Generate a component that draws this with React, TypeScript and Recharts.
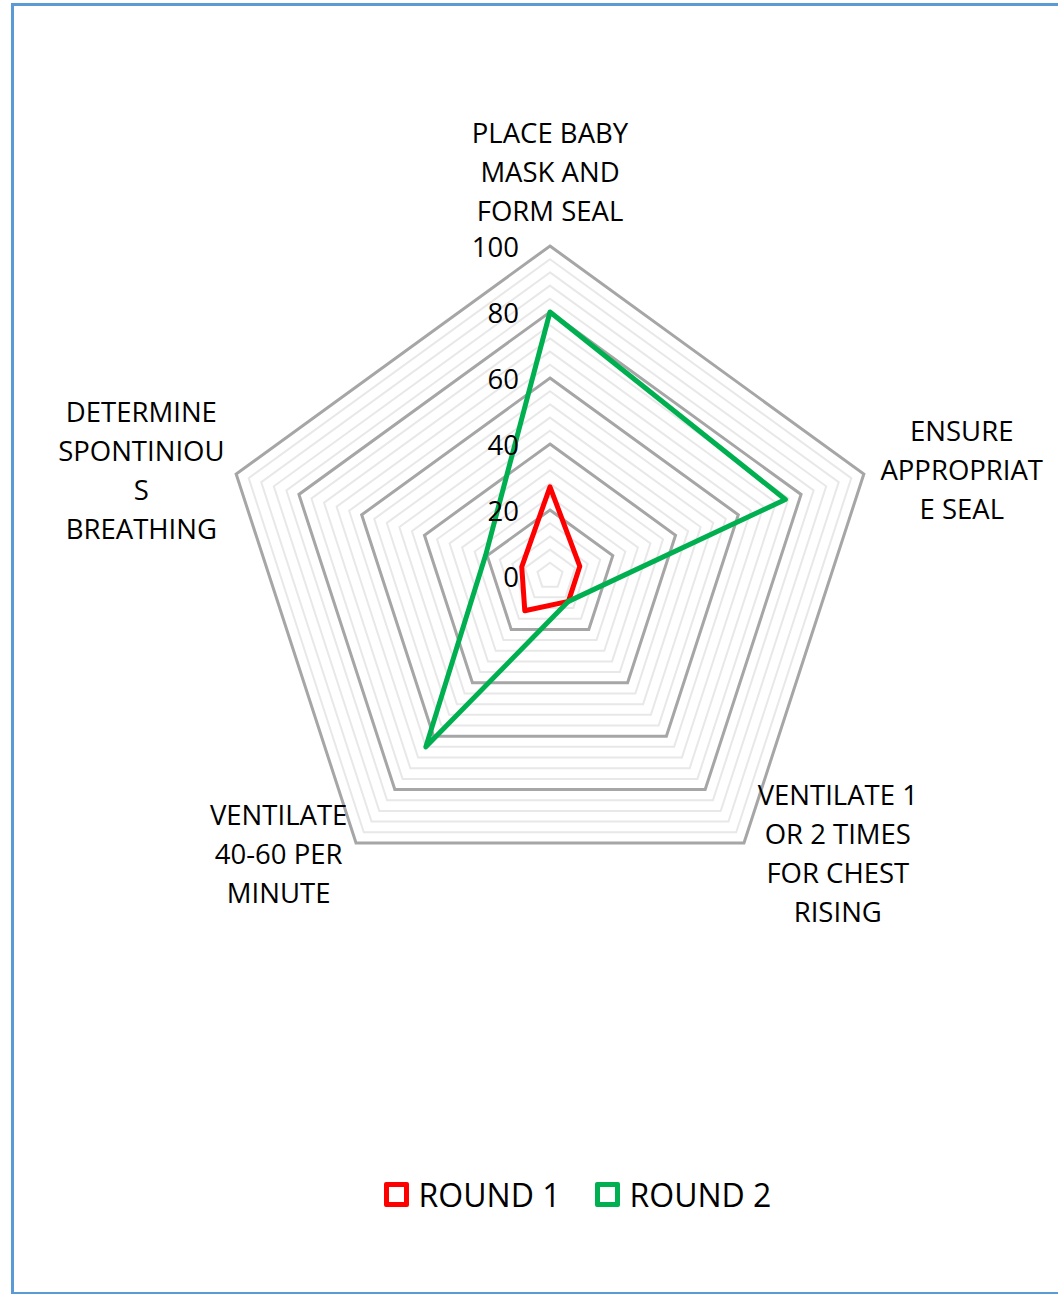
import { RadarChart, Radar, PolarGrid, PolarAngleAxis, PolarRadiusAxis, Legend } from 'recharts';

const categories = [
  'PLACE BABY\nMASK AND\nFORM SEAL',
  'ENSURE\nAPPROPRIAT\nE SEAL',
  'VENTILATE 1\nOR 2 TIMES\nFOR CHEST\nRISING',
  'VENTILATE\n40-60 PER\nMINUTE',
  'DETERMINE\nSPONTINIOU\nS\nBREATHING',
];
const round1 = [27, 9.5, 9.5, 13, 9];
const round2 = [80, 75, 9.5, 64, 20.5];
const majorTicks = [0, 20, 40, 60, 80, 100];
const minorTicks = [4, 8, 12, 16, 24, 28, 32, 36, 44, 48, 52, 56, 64, 68, 72, 76, 84, 88, 92, 96];

const data = categories.map((c, i) => ({ name: c, r1: round1[i], r2: round2[i] }));

const FONT = "'Open Sans', 'Noto Sans', sans-serif";
const LABEL_SIZE = 27.5;
const LINE_H = 39;
const OUTER = 330;
const MAX = 100;

let ctx: CanvasRenderingContext2D | null = null;
function textWidth(s: string) {
  if (!ctx) ctx = document.createElement('canvas').getContext('2d');
  if (!ctx) return s.length * 16;
  ctx.font = `${LABEL_SIZE}px ${FONT}`;
  return ctx.measureText(s).width;
}

function AngleTick(props: any) {
  const { x, y, cy, textAnchor, payload } = props;
  const lines: string[] = String(payload.value).split('\n');
  const w = Math.max(...lines.map(textWidth));
  const n = lines.length;
  let cxText = x;
  let firstY: number;
  if (textAnchor === 'middle') {
    firstY = y - 28 - (n - 1) * LINE_H;
  } else {
    cxText = textAnchor === 'start' ? x + 9 + w / 2 : x - 4 - w / 2;
    const shift = y > cy ? 4 : -2;
    firstY = y + shift - ((n - 1) * LINE_H) / 2;
  }
  return (
    <g>
      {lines.map((l, i) => (
        <text
          key={i}
          x={cxText}
          y={firstY + i * LINE_H}
          textAnchor="middle"
          dominantBaseline="central"
          fill="#000"
          fontSize={LABEL_SIZE}
          fontFamily={FONT}
        >
          {l}
        </text>
      ))}
    </g>
  );
}

function RadiusTick(props: any) {
  const { x, y, payload } = props;
  return (
    <text x={x - 31} y={y} textAnchor="end" dominantBaseline="central" fill="#000" fontSize={LABEL_SIZE} fontFamily={FONT}>
      {payload.value}
    </text>
  );
}

function LegendContent(props: any) {
  const items = (props.payload || []) as { value: string; color: string }[];
  return (
    <div style={{ display: 'flex', justifyContent: 'center', alignItems: 'center', fontFamily: FONT, fontSize: 32, color: '#000', paddingLeft: 97 }}>
      {items.map((it, i) => (
        <div key={i} style={{ display: 'flex', alignItems: 'center', marginLeft: i === 0 ? 0 : 34 }}>
          <span style={{ width: 15, height: 15, border: `5px solid ${it.color}`, borderRadius: 2, display: 'inline-block', marginRight: 10 }} />
          <span>{it.value}</span>
        </div>
      ))}
    </div>
  );
}

export default function App() {
  return (
    <div style={{ position: 'absolute', left: 0, top: 0, width: 1058, height: 1294, overflow: 'hidden', background: '#fff' }}>
      <div style={{ position: 'absolute', left: 11, top: 3, width: 1060, height: 1286, border: '3px solid #5B9BD5' }} />
      <div style={{ position: 'absolute', left: 0, top: 0 }}>
        <RadarChart width={1058} height={1294} data={data} cx={550} cy={576} outerRadius={OUTER} margin={{ top: 0, right: 0, bottom: 0, left: 0 }}>
          <PolarGrid gridType="polygon" radialLines={false} stroke="#E8E8E8" strokeWidth={2} polarRadius={minorTicks.map((t) => (t / MAX) * OUTER)} />
          <PolarGrid gridType="polygon" radialLines={false} stroke="#A6A6A6" strokeWidth={3} />
          <PolarRadiusAxis angle={90} domain={[0, MAX]} ticks={majorTicks} type="number" tick={<RadiusTick />} axisLine={false} tickLine={false} />
          <PolarAngleAxis dataKey="name" tick={<AngleTick />} tickLine={false} axisLine={false} />
          <Radar name="ROUND 1" dataKey="r1" stroke="#FF0000" strokeWidth={5} fill="none" fillOpacity={0} dot={false} isAnimationActive={false} strokeLinejoin="round" />
          <Radar name="ROUND 2" dataKey="r2" stroke="#00B050" strokeWidth={5} fill="none" fillOpacity={0} dot={false} isAnimationActive={false} strokeLinejoin="round" />
          <Legend content={<LegendContent />} wrapperStyle={{ position: 'absolute', top: 1173, left: 0, width: 1058 }} />
        </RadarChart>
      </div>
    </div>
  );
}
